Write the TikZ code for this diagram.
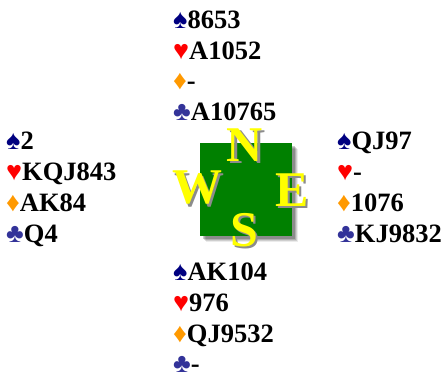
\documentclass[tikz,border=0pt]{standalone}
\usepackage{fontspec}
\setmainfont{Liberation Serif}
\definecolor{spadec}{RGB}{0,0,128}
\definecolor{heartc}{RGB}{255,0,0}
\definecolor{diamc}{RGB}{255,153,0}
\definecolor{clubc}{RGB}{51,51,153}
\definecolor{tablec}{RGB}{0,128,0}
\definecolor{letterc}{RGB}{255,255,0}
\newcommand\SuitS{{\color{spadec}\fontsize{27}{27}\selectfont ♠}}
\newcommand\SuitH{{\color{heartc}\fontsize{27}{27}\selectfont ♥}}
\newcommand\SuitD{{\color{diamc}\fontsize{27}{27}\selectfont ♦}}
\newcommand\SuitC{{\color{clubc}\fontsize{27}{27}\selectfont ♣}}
\newcommand\SeatTxt[1]{\makebox[0pt][l]{\hspace{2.5pt}\raisebox{-2.5pt}{\color{black!45}#1}}#1}
\tikzset{
  x=1pt, y=-1pt,
  cardline/.style={anchor=base west, inner sep=0pt, font=\bfseries\fontsize{26.5}{30}\selectfont},
  seat/.style={inner sep=0pt, text=letterc, font=\bfseries\fontsize{50}{50}\selectfont},
}
\begin{document}
\begin{tikzpicture}
\useasboundingbox (0,0) rectangle (444,373);
% table with shadow
\foreach \d/\o in {6/0.08,5/0.12,4/0.15,3/0.2}{
  \fill[black, opacity=\o] (200+\d,143+\d) rectangle (292+\d,236+\d);
}
\node[fill=tablec, minimum width=92pt, minimum height=93pt, inner sep=0pt, anchor=north west] (table) at (200,143) {};
% seat letters
\node[seat] (N) at (245,146) {\SeatTxt{N}};
\node[seat] (W) at (197,189) {\SeatTxt{W}};
\node[seat] (E) at (292,191) {\SeatTxt{E}};
\node[seat] (S) at (244,231) {\SeatTxt{S}};
% North
\node[cardline] (n1) at (173,28) {\SuitS8653};
\node[cardline] (n2) at (173,59) {\SuitH A1052};
\node[cardline] (n3) at (173,89) {\SuitD-};
\node[cardline] (n4) at (173,120) {\SuitC A10765};
% West
\node[cardline] (w1) at (6,149) {\SuitS2};
\node[cardline] (w2) at (6,180) {\SuitH KQJ843};
\node[cardline] (w3) at (6,211) {\SuitD AK84};
\node[cardline] (w4) at (6,242) {\SuitC Q4};
% East
\node[cardline] (e1) at (337,149) {\SuitS QJ97};
\node[cardline] (e2) at (337,180) {\SuitH-};
\node[cardline] (e3) at (337,211) {\SuitD1076};
\node[cardline] (e4) at (337,242) {\SuitC KJ9832};
% South
\node[cardline] (s1) at (173,280) {\SuitS AK104};
\node[cardline] (s2) at (173,311) {\SuitH976};
\node[cardline] (s3) at (173,342) {\SuitD QJ9532};
\node[cardline] (s4) at (173,372) {\SuitC-};
\end{tikzpicture}
\end{document}
